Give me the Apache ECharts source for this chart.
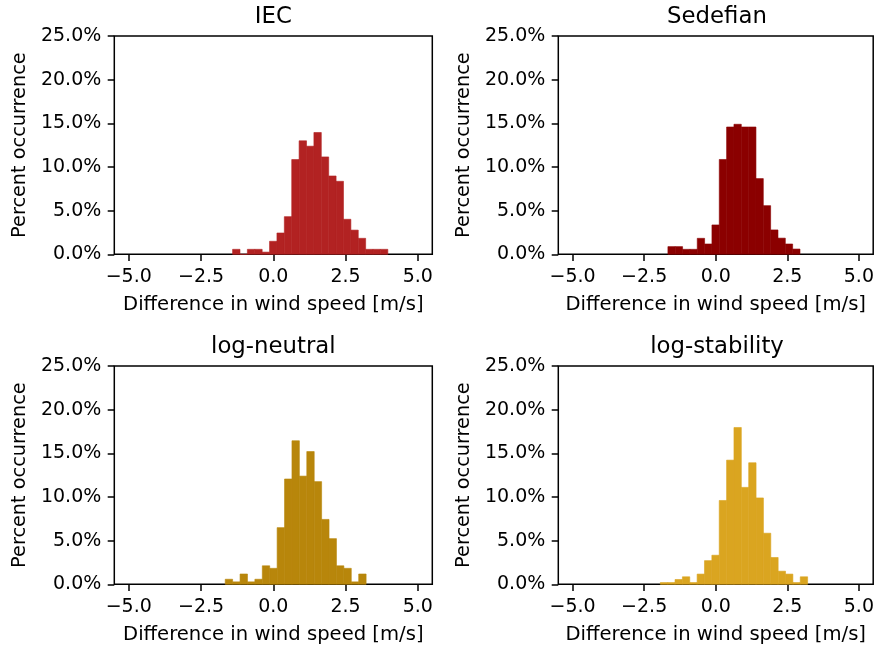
<!DOCTYPE html>
<html>
<head>
<meta charset="utf-8">
<script src="https://cdn.jsdelivr.net/npm/echarts@6/dist/echarts.min.js"></script>
<style>
html,body{margin:0;padding:0;background:#fff;}
#chart{width:877px;height:648px;}
</style>
</head>
<body>
<div id="chart"></div>
<script>
// ---- data (percent occurrence per histogram bin) ----
const panelTitles = ['IEC', 'Sedefian', 'log-neutral', 'log-stability'];
const panelColors = ['#B22222', '#8B0000', '#B8860B', '#DAA520'];
const xTicks = [-5, -2.5, 0, 2.5, 5];
const xLabel = 'Difference in wind speed [m/s]';
const yLabel = 'Percent occurrence';

const iecBinStart = -1.408, iecBinWidth = 0.2557;
const iecPct = [0.57, 0, 0.57, 0.57, 0.25, 1.49, 2.44, 4.31, 10.85, 13.0, 12.38, 13.95, 11.15, 8.97, 8.36, 4.01, 2.77, 1.83, 0.57, 0.57, 0.57];

const sedBinStart = -1.671, sedBinWidth = 0.2563;
const sedPct = [0.88, 0.88, 0.57, 0.57, 1.83, 1.18, 3.36, 10.86, 14.58, 14.89, 14.58, 14.58, 8.67, 5.57, 2.79, 1.85, 1.18, 0.6];

const neuBinStart = -1.663, neuBinWidth = 0.2565;
const neuPct = [0.58, 0.28, 1.18, 0.28, 0.58, 2.12, 1.83, 6.49, 12.06, 16.44, 12.39, 15.2, 11.76, 7.43, 5.23, 2.12, 1.83, 0.28, 1.18];

const stabBinStart = -1.937, stabBinWidth = 0.2573;
const stabPct = [0.2, 0.2, 0.55, 0.86, 0.2, 1.17, 2.71, 3.33, 9.6, 14.22, 17.96, 11.1, 13.92, 9.89, 5.85, 3.07, 1.5, 1.17, 0.2, 0.86];

const panelBins = [
  [iecBinStart, iecBinWidth, iecPct],
  [sedBinStart, sedBinWidth, sedPct],
  [neuBinStart, neuBinWidth, neuPct],
  [stabBinStart, stabBinWidth, stabPct]
];

// ---- layout ----
const FONT = 'DejaVu Sans';
const grids = [
  {left: 114.3, top: 36, width: 318, height: 218.3},
  {left: 558.3, top: 36, width: 317.4, height: 218.3},
  {left: 114.3, top: 366, width: 318, height: 218.3},
  {left: 558.3, top: 366, width: 317.4, height: 218.3}
];

function fmtX(v) {
  const s = Math.abs(v).toFixed(1);
  return v < 0 ? '\u2212' + s : s;
}

const option = {
  animation: false,
  backgroundColor: '#fff',
  title: grids.map((g, i) => ({
    text: panelTitles[i],
    left: g.left + g.width / 2,
    top: g.top - 30,
    textAlign: 'center',
    padding: 0,
    textStyle: {fontFamily: FONT, fontSize: 22.8, fontWeight: 'normal', color: '#000'}
  })),
  grid: grids.map(g => Object.assign({show: true, borderColor: '#000', borderWidth: 1.5, backgroundColor: 'transparent', containLabel: false}, g)),
  xAxis: grids.map((g, i) => ({
    type: 'value', gridIndex: i, min: -5.5, max: 5.5,
    name: xLabel, nameLocation: 'middle', nameGap: 41,
    nameTextStyle: {fontFamily: FONT, fontSize: 19.6, color: '#000'},
    axisLine: {show: false, onZero: false},
    splitLine: {show: false},
    axisTick: {show: true, length: 6.6, customValues: xTicks, lineStyle: {color: '#000', width: 1.5}},
    axisLabel: {show: true, customValues: xTicks, margin: 13, formatter: fmtX,
      fontFamily: FONT, fontSize: 19, color: '#000'}
  })),
  yAxis: grids.map((g, i) => ({
    type: 'value', gridIndex: i, min: 0, max: 25, interval: 5,
    name: yLabel, nameLocation: 'middle', nameGap: 85,
    nameTextStyle: {fontFamily: FONT, fontSize: 19.3, color: '#000'},
    axisLine: {show: false, onZero: false},
    splitLine: {show: false},
    axisTick: {show: true, length: 6.6, lineStyle: {color: '#000', width: 1.5}},
    axisLabel: {show: true, margin: 13, formatter: v => v.toFixed(1) + '%',
      fontFamily: FONT, fontSize: 19, color: '#000'}
  })),
  series: panelBins.map((b, i) => {
    const [start, w, pct] = b;
    const data = pct.map((v, k) => [start + k * w, start + (k + 1) * w, v]);
    return {
      type: 'custom',
      xAxisIndex: i, yAxisIndex: i,
      encode: {x: [0, 1], y: 2},
      data: data,
      renderItem: (params, api) => {
        const p0 = api.coord([api.value(0), 0]);
        const p1 = api.coord([api.value(1), api.value(2)]);
        return {
          type: 'rect',
          shape: {x: p0[0], y: p1[1], width: p1[0] - p0[0], height: p0[1] - p1[1]},
          style: {fill: panelColors[i], stroke: panelColors[i], lineWidth: 0.6}
        };
      }
    };
  })
};

const chart = echarts.init(document.getElementById('chart'), null, {renderer: 'canvas'});
chart.setOption(option);
</script>
</body>
</html>
